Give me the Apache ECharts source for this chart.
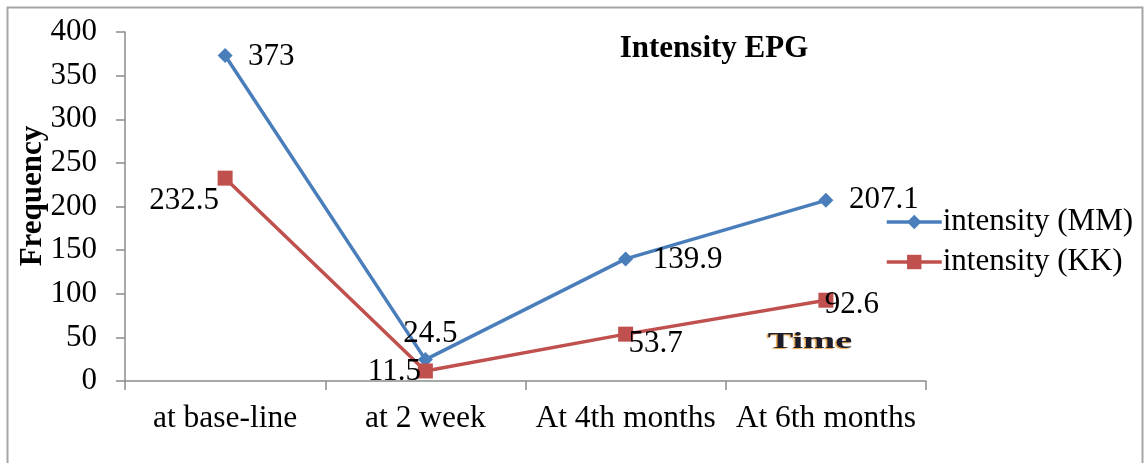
<!DOCTYPE html>
<html>
<head>
<meta charset="utf-8">
<script src="https://cdn.jsdelivr.net/npm/echarts@6/dist/echarts.min.js"></script>
<style>
html,body{margin:0;padding:0;background:#fff;}
#chart{width:1146px;height:463px;}
</style>
</head>
<body>
<div id="chart"></div>
<script>
const categories = ['at base-line', 'at 2 week', 'At 4th months', 'At 6th months'];
const seriesNames = ['intensity (MM)', 'intensity (KK)'];
const mmValues = [373, 24.5, 139.9, 207.1];
const kkValues = [232.5, 11.5, 53.7, 92.6];
const yTicks = [0, 50, 100, 150, 200, 250, 300, 350, 400];

// label offsets (layout only)
const mmLabelOffsets = [[46, 1], [5, -26], [62, 1], [58, 0]];
const kkLabelOffsets = [[-41, 23], [-31, 1], [30, 10], [26, 5]];

const FONT = "'Liberation Serif', 'Times New Roman', serif";
const BLUE = '#4A7EBB';
const RED = '#C0504D';

function withLabels(values, offsets) {
  return values.map((v, i) => ({
    value: v,
    label: { offset: offsets[i] }
  }));
}

const chart = echarts.init(document.getElementById('chart'), null, { renderer: 'canvas' });
chart.setOption({
  backgroundColor: '#fff',
  animation: false,
  title: {
    text: 'Intensity EPG',
    left: 709,
    top: 28,
    textAlign: 'center',
    textStyle: { fontFamily: FONT, fontSize: 31, fontWeight: 'bold', color: '#000' }
  },
  grid: { left: 125, top: 32, right: 220, bottom: 82, containLabel: false },
  legend: {
    orient: 'vertical',
    left: 885,
    top: 206,
    padding: 0,
    itemWidth: 55,
    itemHeight: 18,
    itemGap: 8,
    lineStyle: { width: 3.5 },
    textStyle: { fontFamily: FONT, fontSize: 31, color: '#000', lineHeight: 32, padding: [0, 0, 0, -4] },
    data: seriesNames
  },
  xAxis: {
    type: 'category',
    data: categories,
    boundaryGap: true,
    axisLine: { lineStyle: { color: '#8c8c8c', width: 1.5 } },
    axisTick: { show: true, length: 9, interval: 0, lineStyle: { color: '#8c8c8c', width: 1.5 } },
    axisLabel: { interval: 0, fontFamily: FONT, fontSize: 31.5, color: '#000', margin: 22 }
  },
  yAxis: {
    type: 'value',
    min: yTicks[0],
    max: yTicks[yTicks.length - 1],
    interval: 50,
    axisLine: { show: true, lineStyle: { color: '#8c8c8c', width: 1.5 } },
    axisTick: { show: true, length: 9, lineStyle: { color: '#8c8c8c', width: 1.5 } },
    splitLine: { show: false },
    axisLabel: { fontFamily: FONT, fontSize: 31, color: '#000', margin: 28 }
  },
  series: [
    {
      name: seriesNames[0],
      type: 'line',
      data: withLabels(mmValues, mmLabelOffsets),
      symbol: 'diamond',
      symbolSize: 15,
      lineStyle: { color: BLUE, width: 3.5 },
      itemStyle: { color: BLUE },
      label: {
        show: true, position: 'inside', align: 'center', verticalAlign: 'middle',
        fontFamily: FONT, fontSize: 31, color: '#000'
      },
      z: 3
    },
    {
      name: seriesNames[1],
      type: 'line',
      data: withLabels(kkValues, kkLabelOffsets),
      symbol: 'rect',
      symbolSize: 15,
      lineStyle: { color: RED, width: 3.5 },
      itemStyle: { color: RED },
      label: {
        show: true, position: 'inside', align: 'center', verticalAlign: 'middle',
        fontFamily: FONT, fontSize: 31, color: '#000'
      },
      z: 4
    }
  ],
  graphic: [
    {
      type: 'rect', silent: true, z: -10,
      shape: { x: 7.5, y: 7.5, width: 1135, height: 480 },
      style: { fill: 'none', stroke: '#a6a6a6', lineWidth: 2 }
    },
    {
      type: 'text', silent: true,
      x: 33, y: 196, rotation: Math.PI / 2,
      style: {
        text: 'Frequency', fontFamily: FONT, fontSize: 31, fontWeight: 'bold',
        fill: '#000', align: 'center', verticalAlign: 'middle'
      }
    },
    {
      type: 'text', silent: true,
      x: 810, y: 342, scaleX: 1.6, scaleY: 1,
      style: {
        text: 'Time', fontFamily: FONT, fontSize: 24, fontWeight: 'bold',
        fill: '#1c1c2c', align: 'center', verticalAlign: 'middle',
        textShadowColor: 'rgba(230,150,40,0.85)', textShadowOffsetX: -1.5, textShadowOffsetY: 1, textShadowBlur: 1
      }
    }
  ]
});
</script>
</body>
</html>
